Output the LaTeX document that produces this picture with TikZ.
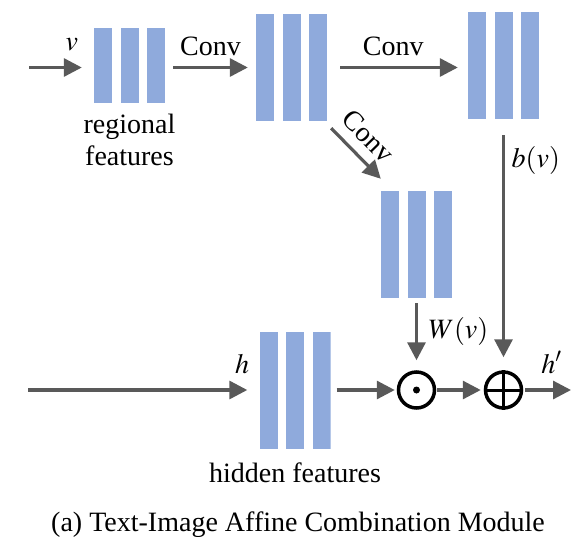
\documentclass[tikz,border=0pt]{standalone}
\usepackage{mathptmx}
\usepackage{fontspec}
\setmainfont{Liberation Serif}
\usetikzlibrary{arrows.meta,calc,positioning}
\definecolor{featblue}{RGB}{143,170,220}
\definecolor{arrowgray}{RGB}{89,89,89}

\begin{document}
\begin{tikzpicture}[x=1pt,y=-1pt,
  font=\fontsize{28}{32}\selectfont,
  inner sep=2pt,
  fmap/.style={minimum width=71pt,minimum height=#1,inner sep=0pt,
    path picture={\foreach \i in {0,1,2}
      \fill[featblue] ($(path picture bounding box.south west)+(\i*26.5,0)$)
        rectangle ($(path picture bounding box.north west)+(\i*26.5+18,0)$);}},
  flow/.style={draw=arrowgray,line width=3.2pt,-{Triangle[length=18pt,width=18pt]}},
  opnode/.style={draw,circle,line width=3.5pt,minimum size=36pt,inner sep=0pt}]
\useasboundingbox (0,0) rectangle (575,536);

% feature maps
\node[fmap=75pt] (regional) at (129.5,65.5) {};
\node[fmap=107pt] (conv1) at (291.5,67.5) {};
\node[fmap=107pt] (conv2) at (503.5,65.5) {};
\node[fmap=107pt] (wmap) at (416.5,244.5) {};
\node[fmap=117pt] (hidden) at (295,390) {};

% operators
\node[opnode] (odot) at (416.5,390) {};
\node[opnode] (oplus) at (503.5,390) {};
\fill (odot) circle (3.5);
\draw[line width=3pt] (oplus.north) -- (oplus.south) (oplus.west) -- (oplus.east);

\coordinate (vin) at (29,67.5);
\coordinate (hin) at (28,390);
\coordinate (hout) at (571,390);

\node[below=9pt of regional,align=center] (reglabel) {regional\\features};
\node[below=12pt of hidden] (hidlabel) {hidden features};
\node[anchor=base] (caption) at (298,531) {(a) Text-Image Affine Combination Module};

\draw[flow,shorten >=12pt] (vin) -- (vin -| regional.west) node[pos=0.66,above=12.5pt] {$v$};
\draw[flow,shorten <=8pt,shorten >=8pt] (regional.east |- conv1.west) -- (conv1.west) node[midway,above=8.5pt] {Conv};
\draw[flow,shorten <=13pt,shorten >=10pt] (conv1.east) -- (conv1.east -| conv2.west) node[pos=0.47,above=8.5pt] {Conv};
\draw[flow] ([shift={(4,7)}]conv1.south east) -- ([shift={(0,-12)}]wmap.north west) node[pos=0.45,sloped,above=8pt] {Conv};

\draw[flow,shorten <=5pt,shorten >=10pt] (wmap.south) -- (odot.north);
\draw[flow,shorten <=16pt,shorten >=13pt] (conv2.south) -- (oplus.north);
\node[anchor=base west] (wlabel) at ([shift={(10,40)}]wmap.south) {$W(v)$};
\node[anchor=base west] (blabel) at ([shift={(6,48)}]conv2.south) {$b(v)$};

\draw[flow,shorten >=12pt] (hin) -- (hidden.west) node[pos=0.926,above=13pt] {$h$};
\draw[flow,shorten <=6pt,shorten >=2pt] (hidden.east) -- (odot.west);
\draw[flow,shorten <=1pt,shorten >=3pt] (odot.east) -- (oplus.west);
\draw[flow,shorten <=2pt] (oplus.east) -- (hout) node[pos=0.59,above=13pt] {$h'$};
%\draw[red] (0,0) rectangle (575,536);
\end{tikzpicture}
\end{document}
